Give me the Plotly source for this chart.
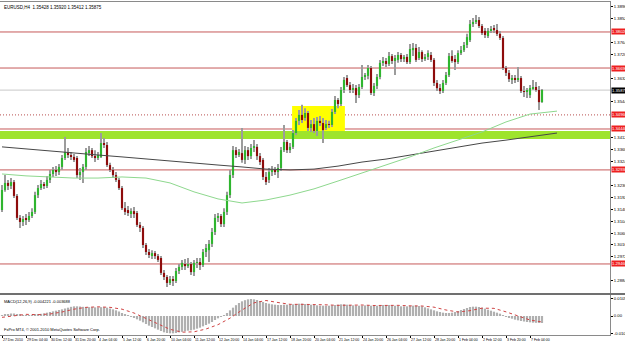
import plotly.graph_objects as go

# ---------------- data (prices in pips, i.e. price * 10000) ----------------
opens = [
    13145, 13219, 13245, 13234, 13248, 13197, 13116, 13101, 13112, 13108,
    13123, 13138, 13200, 13226, 13241, 13234, 13256, 13278, 13293, 13285,
    13304, 13337, 13359, 13348, 13341, 13337, 13274, 13285, 13304, 13359,
    13366, 13344, 13337, 13341, 13392, 13385, 13311, 13293, 13274, 13256,
    13226, 13152, 13145, 13134, 13141, 13134, 13090, 13079, 13016, 12990,
    12979, 12986, 12975, 12968, 12913, 12898, 12876, 12890, 12883, 12920,
    12935, 12946, 12938, 12946, 12916, 12950, 12953, 12942, 12990, 12997,
    13020, 13064, 13116, 13123, 13093, 13138, 13200, 13274, 13366, 13348,
    13355, 13330, 13366, 13344, 13374, 13378, 13344, 13330, 13267, 13256,
    13285, 13293, 13285, 13300, 13366, 13396, 13366, 13378, 13429, 13474,
    13496, 13485, 13503, 13448, 13462, 13437, 13474, 13466, 13448, 13462,
    13459, 13507, 13551, 13536, 13588, 13632, 13606, 13588, 13595, 13569,
    13599, 13636, 13640, 13669, 13577, 13603, 13636, 13688, 13695, 13684,
    13713, 13695, 13699, 13717, 13702, 13710, 13691, 13735, 13743, 13706,
    13728, 13702, 13710, 13717, 13699, 13614, 13595, 13584, 13614, 13643,
    13713, 13702, 13691, 13724, 13735, 13754, 13772, 13831, 13839, 13846,
    13824, 13806, 13787, 13806, 13813, 13809, 13795, 13780, 13669, 13651,
    13628, 13632, 13625, 13632, 13584, 13581, 13569, 13595, 13599, 13588,
    13543,
]
highs = [
    13237, 13274, 13256, 13263, 13256, 13204, 13127, 13123, 13130, 13138,
    13152, 13212, 13237, 13256, 13248, 13271, 13293, 13304, 13307, 13315,
    13348, 13414, 13374, 13359, 13352, 13344, 13300, 13315, 13374, 13381,
    13374, 13366, 13359, 13429, 13411, 13396, 13319, 13304, 13285, 13263,
    13234, 13175, 13160, 13152, 13156, 13141, 13101, 13086, 13023, 13001,
    12997, 12994, 12983, 12975, 12924, 12905, 12902, 12902, 12931, 12946,
    12961, 12964, 12968, 12953, 12961, 12968, 12968, 13001, 13020, 13034,
    13079, 13130, 13134, 13130, 13152, 13212, 13293, 13381, 13378, 13370,
    13448, 13381, 13378, 13389, 13403, 13389, 13355, 13337, 13285, 13300,
    13307, 13304, 13315, 13378, 13459, 13403, 13392, 13440, 13485, 13514,
    13533, 13521, 13510, 13477, 13485, 13488, 13492, 13485, 13477, 13474,
    13518, 13566, 13558, 13599, 13636, 13643, 13617, 13610, 13606, 13610,
    13680, 13651, 13680, 13676, 13614, 13647, 13699, 13710, 13706, 13728,
    13721, 13717, 13728, 13724, 13717, 13721, 13758, 13761, 13758, 13747,
    13735, 13721, 13735, 13728, 13706, 13625, 13610, 13625, 13654, 13724,
    13735, 13717, 13735, 13750, 13765, 13795, 13846, 13854, 13865, 13857,
    13831, 13817, 13817, 13824, 13828, 13831, 13806, 13787, 13676, 13662,
    13643, 13643, 13673, 13640, 13603, 13595, 13606, 13625, 13617, 13603,
    13592,
]
lows = [
    13138, 13212, 13219, 13223, 13189, 13108, 13079, 13086, 13090, 13101,
    13116, 13130, 13189, 13219, 13223, 13226, 13245, 13267, 13271, 13274,
    13293, 13330, 13337, 13330, 13322, 13263, 13256, 13245, 13293, 13344,
    13337, 13322, 13330, 13337, 13374, 13304, 13285, 13263, 13248, 13219,
    13145, 13127, 13123, 13116, 13116, 13082, 13064, 13005, 12979, 12968,
    12964, 12964, 12953, 12905, 12887, 12861, 12868, 12865, 12876, 12909,
    12924, 12924, 12931, 12905, 12902, 12931, 12924, 12935, 12972, 12953,
    13009, 13053, 13101, 13082, 13082, 13127, 13189, 13263, 13337, 13341,
    13319, 13315, 13330, 13333, 13359, 13330, 13311, 13256, 13237, 13245,
    13271, 13274, 13263, 13289, 13359, 13355, 13355, 13370, 13422, 13459,
    13466, 13474, 13437, 13433, 13429, 13418, 13455, 13392, 13440, 13448,
    13451, 13499, 13521, 13529, 13577, 13599, 13577, 13577, 13540, 13558,
    13592, 13625, 13628, 13569, 13566, 13592, 13628, 13676, 13673, 13676,
    13684, 13643, 13688, 13691, 13691, 13684, 13684, 13713, 13691, 13699,
    13691, 13695, 13699, 13691, 13603, 13584, 13573, 13577, 13606, 13636,
    13688, 13662, 13684, 13717, 13728, 13743, 13765, 13820, 13831, 13817,
    13791, 13780, 13780, 13798, 13798, 13787, 13772, 13662, 13640, 13617,
    13610, 13614, 13617, 13577, 13562, 13558, 13558, 13588, 13581, 13514,
    13541,
]
closes = [
    13219, 13245, 13234, 13248, 13197, 13116, 13101, 13112, 13108, 13123,
    13138, 13200, 13226, 13241, 13234, 13256, 13278, 13293, 13285, 13304,
    13337, 13359, 13348, 13341, 13330, 13274, 13285, 13304, 13359, 13366,
    13344, 13337, 13348, 13392, 13385, 13311, 13293, 13274, 13256, 13226,
    13152, 13138, 13134, 13141, 13130, 13090, 13079, 13016, 12990, 12979,
    12986, 12975, 12961, 12913, 12898, 12876, 12890, 12883, 12920, 12935,
    12950, 12938, 12946, 12916, 12950, 12953, 12942, 12990, 13005, 13020,
    13064, 13116, 13123, 13093, 13138, 13200, 13274, 13366, 13348, 13359,
    13330, 13366, 13344, 13374, 13378, 13344, 13322, 13267, 13248, 13285,
    13293, 13285, 13300, 13366, 13396, 13366, 13378, 13429, 13474, 13496,
    13477, 13503, 13448, 13462, 13437, 13474, 13466, 13440, 13462, 13459,
    13507, 13551, 13536, 13588, 13625, 13606, 13588, 13595, 13569, 13599,
    13636, 13640, 13669, 13577, 13603, 13636, 13688, 13695, 13684, 13713,
    13695, 13706, 13717, 13702, 13710, 13691, 13739, 13743, 13699, 13728,
    13702, 13710, 13724, 13699, 13614, 13595, 13584, 13614, 13643, 13713,
    13695, 13691, 13724, 13735, 13754, 13783, 13831, 13839, 13846, 13824,
    13798, 13791, 13806, 13813, 13809, 13795, 13780, 13669, 13651, 13628,
    13632, 13625, 13632, 13584, 13581, 13588, 13595, 13599, 13588, 13543,
    13588,
]

# moving averages, read at every 8th bar (last point shifted past the last bar)
ma_bars = [0, 8, 16, 24, 32, 40, 48, 56, 64, 72, 80, 88, 96, 104, 112, 120,
           128, 136, 144, 152, 160, 168, 176, 185]
ma_slow = [13378, 13370, 13363, 13355, 13348, 13341, 13333, 13326, 13319, 13311,
           13304, 13296, 13293, 13296, 13307, 13322, 13333, 13348, 13363, 13378,
           13392, 13403, 13414, 13429]
ma_fast = [13278, 13271, 13267, 13263, 13263, 13267, 13263, 13245, 13212, 13186,
           13171, 13182, 13200, 13223, 13252, 13282, 13311, 13341, 13374, 13403,
           13433, 13470, 13499, 13510]

# MACD histogram (units of 0.0001), one per bar
macd = [
    5, 8, 12, 15, 15, 12, 8, 6, 5, 5, 6, 8, 10,
    13, 16, 20, 24, 28, 32, 36, 40, 45, 50, 55, 58, 58, 57,
    55, 54, 53, 53, 52, 52, 53, 53, 50, 45, 40, 34, 27, 18,
    10, 2, -6, -12, -20, -28, -38, -48, -58, -66, -74, -82, -90, -98, -102,
    -104, -104, -102, -98, -95, -92, -88, -86, -82, -76, -70, -62, -54, -46,
    -36, -24, -14, -4, 6, 18, 34, 50, 65, 78, 88, 95, 100, 102,
    100, 96, 90, 84, 78, 74, 70, 68, 66, 66, 68, 68, 68, 70,
    72, 74, 74, 72, 70, 68, 66, 64, 62, 62, 62, 62, 64, 66,
    68, 70, 70, 68, 66, 64, 62, 62, 62, 64, 64, 62, 62, 62,
    64, 66, 66, 66, 64, 62, 60, 58, 58, 58, 60, 62, 62, 60,
    58, 52, 46, 40, 34, 28, 24, 20, 18, 18, 20, 24, 30, 36,
    42, 48, 54, 56, 56, 54, 50, 44, 38, 32, 26, 20, 14, 6,
    -2, -10, -16, -22, -26, -30, -33, -36, -38, -40, -41, -42, -42,
]
signal_bars = list(range(0, 181, 4))
signal = [-8, 0, 10, 8, 12, 24, 41, 52, 55, 52, 41, 18, -14, -47, -80, -97,
          -95, -78, -52, -13, 36, 79, 93, 81, 70, 70, 70, 67, 64, 66, 66, 63,
          64, 64, 61, 60, 53, 36, 24, 32, 47, 46, 25, -1, -24, -36]

# horizontal objects
red_lines = [1.38020, 1.36690, 1.34440, 1.32930, 1.29460]
dotted_line = 1.34960
bid_price = 1.35875
band_low, band_high = 1.34070, 1.34370
box_bars = (96.7, 114.3)
box_prices = (1.34370, 1.35290)

price_ticks = [1.38960, 1.38520, 1.38080, 1.37640, 1.37200, 1.36760, 1.36320,
               1.35880, 1.35440, 1.35000, 1.34560, 1.34120, 1.33680, 1.33240,
               1.32800, 1.32360, 1.31920, 1.31480, 1.31040, 1.30600, 1.30160,
               1.29720, 1.29280, 1.28840]
macd_ticks = [0.010515, 0.0, -0.010515]
macd_tick_text = ["0.010515", "0.00", "-0.010515"]

time_bars = list(range(0, 177, 8))
time_labels = ["27 Dec 2010", "29 Dec 04:00", "30 Dec 12:00", "31 Dec 20:00",
               "4 Jan 04:00", "5 Jan 12:00", "6 Jan 20:00", "10 Jan 04:00",
               "11 Jan 12:00", "12 Jan 20:00", "14 Jan 04:00", "17 Jan 12:00",
               "18 Jan 20:00", "20 Jan 04:00", "21 Jan 12:00", "24 Jan 20:00",
               "26 Jan 04:00", "27 Jan 12:00", "28 Jan 20:00", "1 Feb 04:00",
               "2 Feb 12:00", "3 Feb 20:00", "7 Feb 04:00"]

title_text = "EURUSD,H4  1.35428 1.35920 1.35412 1.35875"
macd_text = "MACD(12,26,9) -0.004221 -0.003688"
copy_text = "FxPro MT4, \u00a9 2001-2010 MetaQuotes Software Corp."

# ---------------- figure ----------------
S = 10000.0
o = [v / S for v in opens]
h = [v / S for v in highs]
l = [v / S for v in lows]
c = [v / S for v in closes]
bars = list(range(len(o)))

FONT = "Liberation Sans"
UP = "#2fb52f"
DOWN = "#8e0c0c"
WICK = "#9c9c9c"

# price labels drawn on the scale hide the regular scale labels beneath them
label_prices = red_lines + [dotted_line, bid_price]
shown_ticks = [t for t in price_ticks
               if all(abs(t - p) > 0.0022 for p in label_prices)]

fig = go.Figure()
fig.add_trace(go.Bar(x=bars, y=[hi - lo for hi, lo in zip(h, l)], base=l,
                     width=0.34, marker=dict(color=WICK, line=dict(width=0)),
                     xaxis="x", yaxis="y", hoverinfo="skip"))
fig.add_trace(go.Bar(x=bars, y=[cc - oo for oo, cc in zip(o, c)], base=o,
                     width=0.72,
                     marker=dict(color=[UP if cc >= oo else DOWN for oo, cc in zip(o, c)],
                                 line=dict(width=0)),
                     xaxis="x", yaxis="y"))
fig.add_trace(go.Scatter(x=ma_bars, y=[v / S for v in ma_slow], mode="lines",
                         line=dict(color="#474747", width=1), xaxis="x", yaxis="y"))
fig.add_trace(go.Scatter(x=ma_bars, y=[v / S for v in ma_fast], mode="lines",
                         line=dict(color="#8ed88e", width=1), xaxis="x", yaxis="y"))

fig.add_trace(go.Bar(x=bars, y=[v / S for v in macd], width=0.72,
                     marker=dict(color="#b0b0b0", line=dict(width=0)),
                     xaxis="x2", yaxis="y2"))
fig.add_trace(go.Scatter(x=signal_bars, y=[v / S for v in signal], mode="lines",
                         line=dict(color="#d04545", width=1, dash="dot"),
                         xaxis="x2", yaxis="y2"))

shapes = []
shapes.append(dict(type="rect", xref="x", yref="y", x0=box_bars[0], x1=box_bars[1],
                   y0=box_prices[0], y1=box_prices[1], fillcolor="#ffff00",
                   line=dict(width=0), layer="below"))
shapes.append(dict(type="rect", xref="paper", yref="y", x0=0, x1=1,
                   y0=band_low, y1=band_high, fillcolor="#9ee42c",
                   line=dict(width=0), layer="below"))
for p in red_lines:
    shapes.append(dict(type="line", xref="paper", yref="y", x0=0, x1=1, y0=p, y1=p,
                       line=dict(color="#c65a5a", width=1), layer="below"))
shapes.append(dict(type="line", xref="paper", yref="y", x0=0, x1=1,
                   y0=dotted_line, y1=dotted_line,
                   line=dict(color="#b85050", width=1, dash="1px,2px"), layer="below"))
shapes.append(dict(type="line", xref="paper", yref="y", x0=0, x1=1,
                   y0=bid_price, y1=bid_price,
                   line=dict(color="#c8c8c8", width=1), layer="below"))
# separator between the price window and the MACD window
shapes.append(dict(type="line", xref="paper", yref="paper", x0=0, x1=1.03,
                   y0=0.1231, y1=0.1231, line=dict(color="#707070", width=2)))

annotations = []
annotations.append(dict(text=title_text, xref="paper", yref="paper", x=0.004, y=1,
                        xanchor="left", yanchor="top", yshift=-1, showarrow=False,
                        font=dict(family=FONT, size=4.5, color="#000000")))
annotations.append(dict(text=macd_text, xref="paper", yref="paper", x=0.004, y=0.1201,
                        xanchor="left", yanchor="top", yshift=-2, showarrow=False,
                        font=dict(family=FONT, size=4.0, color="#000000")))
annotations.append(dict(text=copy_text, xref="paper", yref="paper", x=0.004, y=0,
                        xanchor="left", yanchor="bottom", yshift=1, showarrow=False,
                        font=dict(family=FONT, size=4.0, color="#000000")))
for b, t in zip(time_bars, time_labels):
    annotations.append(dict(text=t, xref="x2", yref="paper", x=b, y=0,
                            xanchor="left", yanchor="top", yshift=-1, xshift=-1,
                            showarrow=False,
                            font=dict(family=FONT, size=3.5, color="#000000")))
for p in red_lines + [dotted_line]:
    annotations.append(dict(text="%.5f" % p, xref="paper", yref="y", x=1, y=p,
                            xanchor="left", yanchor="middle", xshift=1, showarrow=False,
                            bgcolor="#ee2020", borderpad=0,
                            font=dict(family=FONT, size=4.2, color="#ffffff")))
annotations.append(dict(text="%.5f" % bid_price, xref="paper", yref="y", x=1, y=bid_price,
                        xanchor="left", yanchor="middle", xshift=1, showarrow=False,
                        bgcolor="#000000", borderpad=0,
                        font=dict(family=FONT, size=4.2, color="#ffffff")))

x_range = [-0.667, 202.667]
axis_line = "#8a8a8a"
fig.update_layout(
    width=625, height=342,
    margin=dict(l=0, r=15, t=2, b=7),
    paper_bgcolor="#ffffff", plot_bgcolor="#ffffff",
    showlegend=False, barmode="overlay",
    font=dict(family=FONT, size=5, color="#000000"),
    shapes=shapes, annotations=annotations,
    xaxis=dict(domain=[0, 1], anchor="y", range=x_range, showticklabels=False,
               showgrid=False, zeroline=False, showline=True, mirror=True,
               linecolor=axis_line, linewidth=1, ticks=""),
    yaxis=dict(domain=[0.1261, 1], anchor="x", range=[1.28388, 1.39126], side="right",
               tickvals=shown_ticks, ticktext=["%.5f" % v for v in shown_ticks],
               tickfont=dict(family=FONT, size=4.2, color="#000000"),
               ticks="outside", ticklen=2, tickcolor="#000000",
               showgrid=False, zeroline=False, showline=True, mirror=True,
               linecolor=axis_line, linewidth=1, automargin=False),
    xaxis2=dict(domain=[0, 1], anchor="y2", range=x_range, showticklabels=False,
                tickvals=time_bars, ticks="outside", ticklen=2, tickcolor="#000000",
                showgrid=False, zeroline=False, showline=True, mirror=True,
                linecolor=axis_line, linewidth=1),
    yaxis2=dict(domain=[0, 0.1201], anchor="x2", range=[-0.0114, 0.0126], side="right",
                tickvals=macd_ticks, ticktext=macd_tick_text,
                tickfont=dict(family=FONT, size=4.2, color="#000000"),
                ticks="outside", ticklen=2, tickcolor="#000000",
                showgrid=False, zeroline=False, showline=True, mirror=True,
                linecolor=axis_line, linewidth=1, automargin=False),
)

fig.write_html("out.html")
